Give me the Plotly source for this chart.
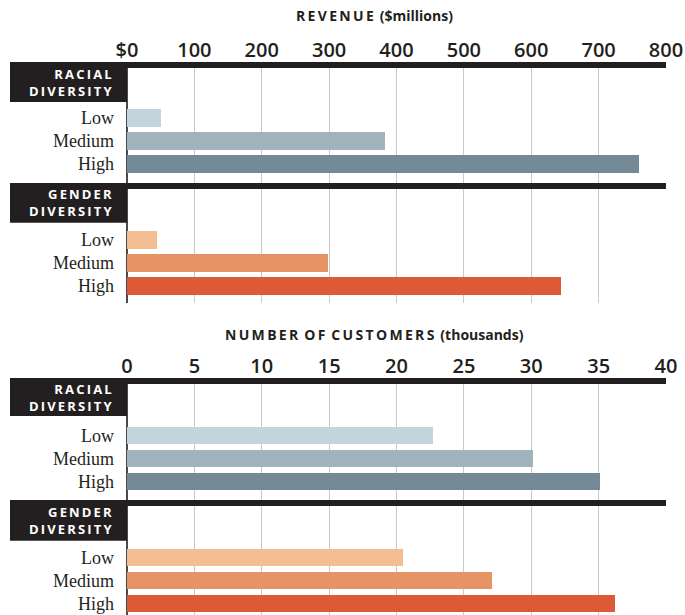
import plotly.graph_objects as go

# ---- data ----
levels = ["Low", "Medium", "High"]
groups = ["RACIAL DIVERSITY", "GENDER DIVERSITY"]

revenue_racial = [51, 383, 760]     # $ millions
revenue_gender = [44, 298, 644]
customers_racial = [22.7, 30.1, 35.1]   # thousands
customers_gender = [20.5, 27.1, 36.2]

revenue_ticks = [0, 100, 200, 300, 400, 500, 600, 700, 800]
revenue_ticktext = ["$0", "100", "200", "300", "400", "500", "600", "700", "800"]
customer_ticks = [0, 5, 10, 15, 20, 25, 30, 35, 40]
customer_ticktext = [str(v) for v in customer_ticks]

racial_colors = ["#c4d4dc", "#a1b4be", "#748a97"]
gender_colors = ["#f3be91", "#e69366", "#de5935"]

# ---- layout constants ----
W, H = 685, 615
ML, MR = 127, 19
PLOT_W = W - ML - MR
GENDER_OFFSET = 5.3          # row index of the first gender bar
BAR_W = 0.77
INK = "#231f20"
SP = "\u2009"                # thin space used to track capitals
WORD_SP = "\u00a0\u2009"     # gap between tracked words


def tracked(word):
    return SP.join(word)


def tracked_words(phrase):
    return WORD_SP.join(tracked(w) for w in phrase.split())


def header_text(label):
    return "<br>".join(tracked(w) for w in label.split())


racial_rows = [0, 1, 2]
gender_rows = [GENDER_OFFSET + i for i in range(3)]

fig = go.Figure()


def add_panel(xa, ya, racial_vals, gender_vals):
    fig.add_trace(go.Bar(x=racial_vals, y=racial_rows, orientation="h", width=BAR_W,
                         marker=dict(color=racial_colors, line=dict(width=0)),
                         xaxis=xa, yaxis=ya, showlegend=False, hoverinfo="x"))
    fig.add_trace(go.Bar(x=gender_vals, y=gender_rows, orientation="h", width=BAR_W,
                         marker=dict(color=gender_colors, line=dict(width=0)),
                         xaxis=xa, yaxis=ya, showlegend=False, hoverinfo="x"))


add_panel("x", "y", revenue_racial, revenue_gender)
add_panel("x2", "y2", customers_racial, customers_gender)

PX_PER_ROW = 23.0


def header(xref, yref, band_top, box_bottom, label):
    band = 6 / PX_PER_ROW
    box_left = (10 - ML) / PLOT_W
    # thick rule across the plot
    fig.add_shape(type="rect", xref=xref, yref=yref, x0=box_left, x1=1,
                  y0=band_top, y1=band_top + band, fillcolor=INK,
                  line=dict(width=0), layer="above")
    # label box
    fig.add_shape(type="rect", xref=xref, yref=yref, x0=box_left, x1=0,
                  y0=band_top, y1=box_bottom, fillcolor=INK,
                  line=dict(width=0), layer="above")
    fig.add_annotation(xref=xref, yref=yref, x=(114 - ML) / PLOT_W,
                       y=(band_top + box_bottom) / 2, text=header_text(label),
                       showarrow=False, xanchor="right", yanchor="middle", align="right",
                       font=dict(family="Open Sans", size=13, color="white", weight="bold"))


# top panel (revenue)
header("x domain", "y", -2.435, -0.696, groups[0])
header("x domain", "y", 2.826, 4.552, groups[1])
# bottom panel (customers)
header("x2 domain", "y2", -2.5, -0.848, groups[0])
header("x2 domain", "y2", 2.804, 4.574, groups[1])

axis_common = dict(showgrid=True, gridcolor="#c9c9c9", gridwidth=1,
                   zeroline=True, zerolinecolor="#4a4a4a", zerolinewidth=1.5,
                   showline=False, side="top", ticks="", automargin=False,
                   tickfont=dict(family="Open Sans", size=20, color=INK, weight=600),
                   fixedrange=True)
yaxis_common = dict(tickmode="array", tickvals=racial_rows + gender_rows,
                    ticktext=levels + levels, showgrid=False, zeroline=False,
                    showline=False, ticks="", automargin=False, ticklabelstandoff=12,
                    tickfont=dict(family="Liberation Serif", size=18, color=INK),
                    fixedrange=True)

top_dom = [1 - 303 / H, 1 - 62 / H]
bot_dom = [0, 1 - 378 / H]

fig.update_layout(
    width=W, height=H, template="none",
    margin=dict(l=ML, r=MR, t=0, b=0, pad=0),
    paper_bgcolor="white", plot_bgcolor="white",
    bargap=0,
    xaxis=dict(axis_common, range=[0, 800], tickvals=revenue_ticks,
               ticktext=revenue_ticktext, anchor="y"),
    yaxis=dict(yaxis_common, domain=top_dom, range=[8.04, -2.435], anchor="x"),
    xaxis2=dict(axis_common, range=[0, 40], tickvals=customer_ticks,
                ticktext=customer_ticktext, anchor="y2"),
    yaxis2=dict(yaxis_common, domain=bot_dom, range=[7.8, -2.5], anchor="x2"),
)

title_font = dict(family="Open Sans", size=14, color=INK, weight="bold")
fig.add_annotation(xref="paper", yref="paper", x=(374 - ML) / PLOT_W, y=1 - 15 / H,
                   text=tracked_words("REVENUE") + WORD_SP + "($millions)", showarrow=False,
                   xanchor="center", yanchor="middle", font=title_font)
fig.add_annotation(xref="paper", yref="paper", x=(374 - ML) / PLOT_W, y=1 - 334.5 / H,
                   text=tracked_words("NUMBER OF CUSTOMERS") + WORD_SP + "(thousands)",
                   showarrow=False, xanchor="center", yanchor="middle", font=title_font)

fig.write_html("out.html")
